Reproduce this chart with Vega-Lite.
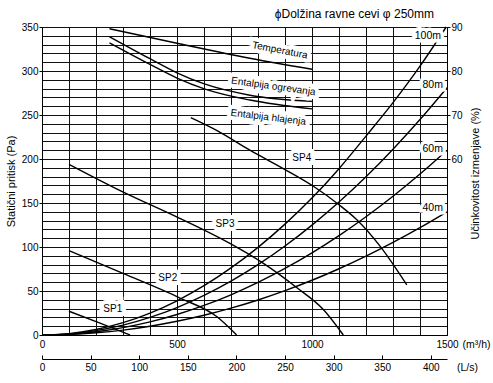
{
  "$schema": "https://vega.github.io/schema/vega-lite/v6.json",
  "width": 405,
  "height": 308,
  "autosize": {"type": "none"},
  "padding": {"left": 42, "top": 27, "right": 46, "bottom": 48},
  "background": "white",
  "title": {"text": "ϕDolžina ravne cevi φ 250mm", "anchor": "end", "frame": "group", "dx": -13, "offset": 1, "fontSize": 12, "fontWeight": "normal", "font": "Liberation Sans", "color": "black"},
  "config": {
    "font": "Liberation Sans",
    "view": {"stroke": null},
    "axis": {"labelFont": "Liberation Sans", "labelFontSize": 10, "labelColor": "black", "titleFont": "Liberation Sans", "titleFontSize": 11, "titleFontWeight": "normal", "titleColor": "black", "domainColor": "black", "tickColor": "black", "gridColor": "#111111", "gridOpacity": 1, "gridWidth": 1, "labelOverlap": false, "labelFlush": false, "labelBound": false}
  },
  "datasets": {
    "curves": [
      {"s": "SP1", "Q": 100, "Pa": 27}, {"s": "SP1", "Q": 215, "Pa": 13.6}, {"s": "SP1", "Q": 326, "Pa": 0},
      {"s": "SP2", "Q": 100, "Pa": 96}, {"s": "SP2", "Q": 300, "Pa": 70}, {"s": "SP2", "Q": 511, "Pa": 42}, {"s": "SP2", "Q": 647, "Pa": 21}, {"s": "SP2", "Q": 721, "Pa": 0},
      {"s": "SP3", "Q": 100, "Pa": 194}, {"s": "SP3", "Q": 301, "Pa": 162.4}, {"s": "SP3", "Q": 499, "Pa": 134.2}, {"s": "SP3", "Q": 696, "Pa": 104}, {"s": "SP3", "Q": 820, "Pa": 81.4}, {"s": "SP3", "Q": 943, "Pa": 54}, {"s": "SP3", "Q": 1042, "Pa": 29}, {"s": "SP3", "Q": 1116, "Pa": 0},
      {"s": "SP4", "Q": 551, "Pa": 247}, {"s": "SP4", "Q": 650, "Pa": 232}, {"s": "SP4", "Q": 770, "Pa": 210}, {"s": "SP4", "Q": 900, "Pa": 188}, {"s": "SP4", "Q": 1005, "Pa": 169}, {"s": "SP4", "Q": 1100, "Pa": 148}, {"s": "SP4", "Q": 1166, "Pa": 131}, {"s": "SP4", "Q": 1252, "Pa": 101}, {"s": "SP4", "Q": 1351, "Pa": 57},
      {"s": "100m", "Q": 0, "Pa": 0}, {"s": "100m", "Q": 100, "Pa": 1.6}, {"s": "100m", "Q": 200, "Pa": 6.2}, {"s": "100m", "Q": 300, "Pa": 14}, {"s": "100m", "Q": 400, "Pa": 24.9}, {"s": "100m", "Q": 500, "Pa": 38.9}, {"s": "100m", "Q": 600, "Pa": 56}, {"s": "100m", "Q": 700, "Pa": 76.2}, {"s": "100m", "Q": 800, "Pa": 99.6}, {"s": "100m", "Q": 900, "Pa": 126}, {"s": "100m", "Q": 1000, "Pa": 155.6}, {"s": "100m", "Q": 1100, "Pa": 189}, {"s": "100m", "Q": 1200, "Pa": 226}, {"s": "100m", "Q": 1300, "Pa": 264}, {"s": "100m", "Q": 1400, "Pa": 305.5}, {"s": "100m", "Q": 1497, "Pa": 350},
      {"s": "80m", "Q": 0, "Pa": 0}, {"s": "80m", "Q": 100, "Pa": 1.25}, {"s": "80m", "Q": 200, "Pa": 5}, {"s": "80m", "Q": 300, "Pa": 11.2}, {"s": "80m", "Q": 400, "Pa": 20}, {"s": "80m", "Q": 500, "Pa": 31.2}, {"s": "80m", "Q": 600, "Pa": 45}, {"s": "80m", "Q": 700, "Pa": 61.2}, {"s": "80m", "Q": 800, "Pa": 79.9}, {"s": "80m", "Q": 900, "Pa": 101.2}, {"s": "80m", "Q": 1000, "Pa": 124.9}, {"s": "80m", "Q": 1100, "Pa": 151.1}, {"s": "80m", "Q": 1200, "Pa": 179.8}, {"s": "80m", "Q": 1300, "Pa": 211.1}, {"s": "80m", "Q": 1400, "Pa": 244.8}, {"s": "80m", "Q": 1500, "Pa": 281},
      {"s": "60m", "Q": 0, "Pa": 0}, {"s": "60m", "Q": 100, "Pa": 0.9}, {"s": "60m", "Q": 200, "Pa": 3.7}, {"s": "60m", "Q": 300, "Pa": 8.4}, {"s": "60m", "Q": 400, "Pa": 14.9}, {"s": "60m", "Q": 500, "Pa": 23.3}, {"s": "60m", "Q": 600, "Pa": 33.6}, {"s": "60m", "Q": 700, "Pa": 45.7}, {"s": "60m", "Q": 800, "Pa": 59.7}, {"s": "60m", "Q": 900, "Pa": 75.6}, {"s": "60m", "Q": 1000, "Pa": 93.3}, {"s": "60m", "Q": 1100, "Pa": 112.9}, {"s": "60m", "Q": 1200, "Pa": 134.4}, {"s": "60m", "Q": 1300, "Pa": 157.7}, {"s": "60m", "Q": 1400, "Pa": 182.9}, {"s": "60m", "Q": 1500, "Pa": 210},
      {"s": "40m", "Q": 0, "Pa": 0}, {"s": "40m", "Q": 100, "Pa": 0.6}, {"s": "40m", "Q": 200, "Pa": 2.5}, {"s": "40m", "Q": 300, "Pa": 5.6}, {"s": "40m", "Q": 400, "Pa": 10}, {"s": "40m", "Q": 500, "Pa": 15.6}, {"s": "40m", "Q": 600, "Pa": 22.4}, {"s": "40m", "Q": 700, "Pa": 30.5}, {"s": "40m", "Q": 800, "Pa": 39.8}, {"s": "40m", "Q": 900, "Pa": 50.4}, {"s": "40m", "Q": 1000, "Pa": 62.2}, {"s": "40m", "Q": 1100, "Pa": 75.3}, {"s": "40m", "Q": 1200, "Pa": 89.6}, {"s": "40m", "Q": 1300, "Pa": 105.2}, {"s": "40m", "Q": 1400, "Pa": 122}, {"s": "40m", "Q": 1500, "Pa": 140}
    ],
    "eff": [
      {"s": "Temperatura", "Q": 250, "E": 89.6}, {"s": "Temperatura", "Q": 500, "E": 86.3}, {"s": "Temperatura", "Q": 770, "E": 82.9}, {"s": "Temperatura", "Q": 1000, "E": 80.4},
      {"s": "Entalpija ogrevanja", "Q": 250, "E": 87.8}, {"s": "Entalpija ogrevanja", "Q": 400, "E": 82.8}, {"s": "Entalpija ogrevanja", "Q": 500, "E": 79.6}, {"s": "Entalpija ogrevanja", "Q": 604, "E": 77.0}, {"s": "Entalpija ogrevanja", "Q": 770, "E": 74.5}, {"s": "Entalpija ogrevanja", "Q": 1000, "E": 73.1},
      {"s": "Entalpija hlajenja", "Q": 250, "E": 86.4}, {"s": "Entalpija hlajenja", "Q": 400, "E": 81.5}, {"s": "Entalpija hlajenja", "Q": 500, "E": 78.4}, {"s": "Entalpija hlajenja", "Q": 604, "E": 75.9}, {"s": "Entalpija hlajenja", "Q": 770, "E": 73.4}, {"s": "Entalpija hlajenja", "Q": 1000, "E": 71.4}
    ],
    "labels": [
      {"t": "SP1", "Q": 262, "Pa": 30},
      {"t": "SP2", "Q": 466, "Pa": 64.5},
      {"t": "SP3", "Q": 678, "Pa": 126.7},
      {"t": "SP4", "Q": 962, "Pa": 201.4}
    ],
    "mlabels": [
      {"t": "100m", "Q": 1429, "Pa": 339.7},
      {"t": "80m", "Q": 1447, "Pa": 283.8},
      {"t": "60m", "Q": 1447, "Pa": 211.5},
      {"t": "40m", "Q": 1447, "Pa": 144.3}
    ],
    "lT": [{"t": "Temperatura", "Q": 881, "Pa": 323.5}],
    "lO": [{"t": "Entalpija ogrevanja", "Q": 857, "Pa": 282.4}],
    "lH": [{"t": "Entalpija hlajenja", "Q": 838, "Pa": 247.3}]
  },
  "layer": [
    {
      "data": {"name": "curves"},
      "mark": {"type": "line", "color": "black", "strokeWidth": 1.4, "interpolate": "monotone"},
      "encoding": {
        "x": {"field": "Q", "type": "quantitative", "scale": {"domain": [0, 1500], "nice": false, "zero": false},
          "axis": {"orient": "bottom", "values": [0, 100, 200, 300, 400, 500, 600, 700, 800, 900, 1000, 1100, 1200, 1300, 1400, 1500], "format": "d", "grid": true, "ticks": false, "labelExpr": "datum.value % 500 === 0 ? datum.label : ''", "labelPadding": 4, "title": "(m³/h)", "titleX": 434, "titleY": 9, "titleBaseline": "middle", "titleAlign": "center", "titleFontSize": 10.5}},
        "y": {"field": "Pa", "type": "quantitative", "scale": {"domain": [0, 350], "nice": false, "zero": false},
          "axis": {"orient": "left", "values": [0, 10, 20, 30, 40, 50, 60, 70, 80, 90, 100, 110, 120, 130, 140, 150, 160, 170, 180, 190, 200, 210, 220, 230, 240, 250, 260, 270, 280, 290, 300, 310, 320, 330, 340, 350], "grid": true, "labelExpr": "datum.value % 50 === 0 ? datum.label : ''", "tickSize": 3, "tickOpacity": {"condition": {"test": "datum.value % 50 === 0", "value": 1}, "value": 0}, "labelPadding": 1, "title": "Statični pritisk (Pa)", "titlePadding": 5}},
        "detail": {"field": "s", "type": "nominal"}
      }
    },
    {
      "data": {"name": "eff"},
      "mark": {"type": "line", "color": "black", "strokeWidth": 1.4, "interpolate": "monotone"},
      "encoding": {
        "x": {"field": "Q", "type": "quantitative", "scale": {"domain": [0, 1500], "nice": false, "zero": false},
          "axis": {"orient": "bottom", "offset": 24, "values": [0, 180, 360, 540, 720, 900, 1080, 1260, 1440], "labelExpr": "round(datum.value / 3.6)", "grid": false, "tickSize": -4, "labelPadding": 7, "title": "(L/s)", "titleX": 425, "titleY": 8, "titleBaseline": "middle", "titleAlign": "center", "titleFontSize": 10.5}},
        "y": {"field": "E", "type": "quantitative", "scale": {"domain": [20, 90], "nice": false, "zero": false},
          "axis": {"orient": "right", "values": [60, 70, 80, 90], "grid": false, "tickSize": 3, "labelPadding": 1, "title": "Učinkovitost izmenjave (%)", "titleAngle": 270, "titleAlign": "center", "titleY": 146, "titlePadding": 18}},
        "detail": {"field": "s", "type": "nominal"}
      }
    },
    {
      "layer": [
        {
          "data": {"name": "labels"},
          "mark": {"type": "text", "fontSize": 10, "fill": "white", "stroke": "white", "strokeWidth": 8, "strokeJoin": "miter", "align": "center", "baseline": "middle"},
          "encoding": {
            "x": {"field": "Q", "type": "quantitative", "scale": {"domain": [0, 1500], "nice": false, "zero": false},
              "axis": {"orient": "bottom", "labels": false, "ticks": false, "domain": false, "grid": false, "title": "Volumen zraka", "titleX": 211, "titleY": 45, "titleBaseline": "middle", "titleAlign": "center"}},
            "y": {"field": "Pa", "type": "quantitative", "scale": {"domain": [0, 350], "nice": false, "zero": false}, "axis": null},
            "text": {"field": "t"}
          }
        },
        {
          "data": {"name": "labels"},
          "mark": {"type": "text", "fontSize": 10, "fill": "black", "align": "center", "baseline": "middle"},
          "encoding": {
            "x": {"field": "Q", "type": "quantitative", "axis": null},
            "y": {"field": "Pa", "type": "quantitative", "axis": null},
            "text": {"field": "t"}
          }
        },
        {
          "data": {"name": "mlabels"},
          "mark": {"type": "text", "fontSize": 10.5, "fill": "white", "stroke": "white", "strokeWidth": 7, "strokeJoin": "miter", "align": "center", "baseline": "middle"},
          "encoding": {
            "x": {"field": "Q", "type": "quantitative", "axis": null},
            "y": {"field": "Pa", "type": "quantitative", "axis": null},
            "text": {"field": "t"}
          }
        },
        {
          "data": {"name": "mlabels"},
          "mark": {"type": "text", "fontSize": 10.5, "fill": "black", "align": "center", "baseline": "middle"},
          "encoding": {
            "x": {"field": "Q", "type": "quantitative", "axis": null},
            "y": {"field": "Pa", "type": "quantitative", "axis": null},
            "text": {"field": "t"}
          }
        },
        {
          "data": {"name": "lT"},
          "mark": {"type": "text", "fontSize": 10, "angle": 11, "fill": "white", "stroke": "white", "strokeWidth": 8, "strokeJoin": "miter", "align": "center", "baseline": "middle"},
          "encoding": {
            "x": {"field": "Q", "type": "quantitative", "axis": null},
            "y": {"field": "Pa", "type": "quantitative", "axis": null},
            "text": {"field": "t"}
          }
        },
        {
          "data": {"name": "lT"},
          "mark": {"type": "text", "fontSize": 10, "angle": 11, "fill": "black", "align": "center", "baseline": "middle"},
          "encoding": {
            "x": {"field": "Q", "type": "quantitative", "axis": null},
            "y": {"field": "Pa", "type": "quantitative", "axis": null},
            "text": {"field": "t"}
          }
        },
        {
          "data": {"name": "lO"},
          "mark": {"type": "text", "fontSize": 10, "angle": 8, "fill": "white", "stroke": "white", "strokeWidth": 8, "strokeJoin": "miter", "align": "center", "baseline": "middle"},
          "encoding": {
            "x": {"field": "Q", "type": "quantitative", "axis": null},
            "y": {"field": "Pa", "type": "quantitative", "axis": null},
            "text": {"field": "t"}
          }
        },
        {
          "data": {"name": "lO"},
          "mark": {"type": "text", "fontSize": 10, "angle": 8, "fill": "black", "align": "center", "baseline": "middle"},
          "encoding": {
            "x": {"field": "Q", "type": "quantitative", "axis": null},
            "y": {"field": "Pa", "type": "quantitative", "axis": null},
            "text": {"field": "t"}
          }
        },
        {
          "data": {"name": "lH"},
          "mark": {"type": "text", "fontSize": 10, "angle": 7, "fill": "white", "stroke": "white", "strokeWidth": 8, "strokeJoin": "miter", "align": "center", "baseline": "middle"},
          "encoding": {
            "x": {"field": "Q", "type": "quantitative", "axis": null},
            "y": {"field": "Pa", "type": "quantitative", "axis": null},
            "text": {"field": "t"}
          }
        },
        {
          "data": {"name": "lH"},
          "mark": {"type": "text", "fontSize": 10, "angle": 7, "fill": "black", "align": "center", "baseline": "middle"},
          "encoding": {
            "x": {"field": "Q", "type": "quantitative", "axis": null},
            "y": {"field": "Pa", "type": "quantitative", "axis": null},
            "text": {"field": "t"}
          }
        }
      ]
    }
  ],
  "resolve": {"scale": {"y": "independent"}, "axis": {"x": "independent", "y": "independent"}}
}
